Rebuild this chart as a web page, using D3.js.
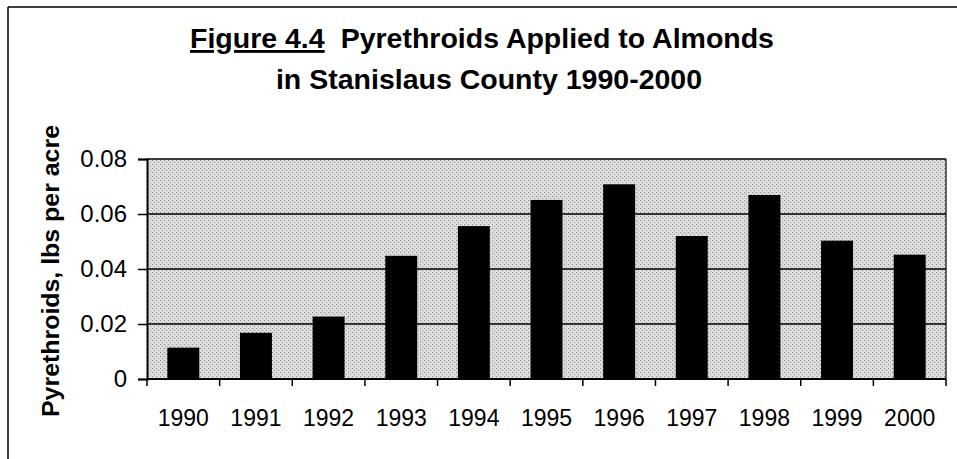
<!DOCTYPE html>
<html>
<head>
<meta charset="utf-8">
<script src="https://cdn.jsdelivr.net/npm/d3@7"></script>
<style>
  body { margin: 0; background: #fff; }
  svg { display: block; font-family: "Liberation Sans", Arial, sans-serif; }
</style>
</head>
<body>
<script>
const years = ["1990","1991","1992","1993","1994","1995","1996","1997","1998","1999","2000"]
const values = [0.0114, 0.0168, 0.0227, 0.0448, 0.0556, 0.0651, 0.0708, 0.052, 0.0669, 0.0503, 0.0452]
const yTicks = [0, 0.02, 0.04, 0.06, 0.08]

const width = 957
const height = 459
const margin = { left: 147, right: 11, top: 159, bottom: 80 }

const svg = d3.select("body").append("svg")
    .attr("width", width)
    .attr("height", height)

// stippled fill like the printed plot area
const pat = svg.append("defs").append("pattern")
    .attr("id", "stipple")
    .attr("patternUnits", "userSpaceOnUse")
    .attr("width", 4).attr("height", 4)
pat.append("rect").attr("width", 4).attr("height", 4).attr("fill", "#dcdcdc")
pat.append("rect").attr("x", 0).attr("y", 0).attr("width", 1).attr("height", 1).attr("fill", "#8a8a8a")
pat.append("rect").attr("x", 2).attr("y", 2).attr("width", 1).attr("height", 1).attr("fill", "#a0a0a0")

// outer frame of the scanned page
svg.append("line").attr("x1", 8).attr("x2", 8).attr("y1", 7).attr("y2", height)
    .attr("stroke", "#000").attr("stroke-width", 1.5)
svg.append("line").attr("x1", 8).attr("x2", width).attr("y1", 7).attr("y2", 7)
    .attr("stroke", "#000").attr("stroke-width", 1.5)

// title, two lines
const t1 = svg.append("text")
    .attr("x", 482).attr("y", 48)
    .attr("text-anchor", "middle")
    .attr("font-weight", "bold")
    .attr("font-size", 28.5)
t1.append("tspan").attr("text-decoration", "underline").text("Figure 4.4")
t1.append("tspan").attr("dx", 16).text("Pyrethroids Applied to Almonds")

svg.append("text")
    .attr("x", 489).attr("y", 89)
    .attr("text-anchor", "middle")
    .attr("font-weight", "bold")
    .attr("font-size", 28.5)
    .text("in Stanislaus County 1990-2000")

const x = d3.scaleBand()
    .domain(years)
    .range([margin.left, width - margin.right])
    .paddingInner(0.56)
    .paddingOuter(0.28)

const y = d3.scaleLinear()
    .domain([0, 0.08])
    .range([height - margin.bottom, margin.top])

// plot background
svg.append("rect")
    .attr("x", margin.left)
    .attr("y", margin.top)
    .attr("width", width - margin.right - margin.left)
    .attr("height", y(0) - y(0.08))
    .attr("fill", "url(#stipple)")

// gridlines
svg.append("g")
    .selectAll("line")
    .data(yTicks.slice(1))
    .join("line")
    .attr("x1", margin.left)
    .attr("x2", width - margin.right)
    .attr("y1", d => y(d))
    .attr("y2", d => y(d))
    .attr("stroke", "#000")
    .attr("stroke-width", 1.5)

// right border
svg.append("line")
    .attr("x1", width - margin.right).attr("x2", width - margin.right)
    .attr("y1", y(0.08)).attr("y2", y(0))
    .attr("stroke", "#000").attr("stroke-width", 1.2)

// bars
svg.append("g")
    .selectAll("rect")
    .data(values)
    .join("rect")
    .attr("x", (d, i) => x(years[i]))
    .attr("width", x.bandwidth())
    .attr("y", d => y(d))
    .attr("height", d => y(0) - y(d))
    .attr("fill", "#000")

// y axis
const yAxis = svg.append("g")
    .attr("transform", `translate(${margin.left},0)`)
    .call(d3.axisLeft(y).tickValues(yTicks).tickSize(9).tickPadding(11)
        .tickFormat(d => d === 0 ? "0" : d3.format(".2f")(d)))
yAxis.select(".domain").attr("stroke-width", 2)
yAxis.selectAll(".tick line").attr("stroke-width", 1.5)
yAxis.selectAll("text").attr("font-size", 24).attr("fill", "#000")

// x axis with ticks between categories
const plotW = width - margin.right - margin.left
const xAxis = svg.append("g")
    .attr("transform", `translate(0,${y(0)})`)
xAxis.append("line")
    .attr("x1", margin.left).attr("x2", width - margin.right)
    .attr("stroke", "#000").attr("stroke-width", 2)
xAxis.selectAll("line.tk")
    .data(d3.range(years.length + 1))
    .join("line")
    .attr("class", "tk")
    .attr("x1", i => margin.left + i * plotW / years.length)
    .attr("x2", i => margin.left + i * plotW / years.length)
    .attr("y1", 0).attr("y2", 7)
    .attr("stroke", "#000").attr("stroke-width", 1.5)
xAxis.selectAll("text")
    .data(years)
    .join("text")
    .attr("x", d => x(d) + x.bandwidth() / 2)
    .attr("y", 47)
    .attr("text-anchor", "middle")
    .attr("font-size", 23)
    .text(d => d)

// y axis title
svg.append("text")
    .attr("transform", "translate(59,271) rotate(-90)")
    .attr("text-anchor", "middle")
    .attr("font-weight", "bold")
    .attr("font-size", 24)
    .attr("textLength", 292)
    .attr("lengthAdjust", "spacingAndGlyphs")
    .text("Pyrethroids, lbs per acre")
</script>
</body>
</html>
